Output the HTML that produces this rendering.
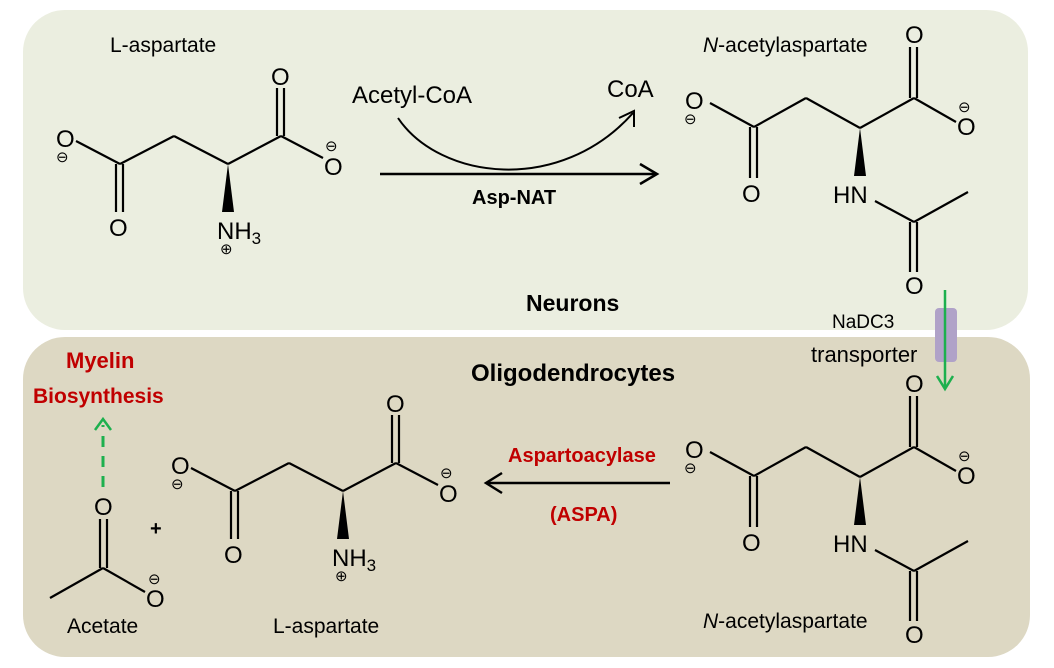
<!DOCTYPE html>
<html><head><meta charset="utf-8"><style>
html,body{margin:0;padding:0;background:#fff;}
svg{display:block;}
text{font-family:"Liberation Sans",sans-serif;fill:#000;}
.o{font-size:24px;}
.ch{font-size:15px;}
.lbl{font-size:21px;}
.b{font-weight:bold;}
</style></head><body>
<svg width="1054" height="668" viewBox="0 0 1054 668" xmlns="http://www.w3.org/2000/svg">
<defs>
<g id="asp" stroke="#000" stroke-width="2.2" fill="none">
  <line x1="76" y1="141" x2="120" y2="164"/>
  <line x1="120" y1="164" x2="174" y2="136"/>
  <line x1="174" y1="136" x2="228" y2="164"/>
  <line x1="228" y1="164" x2="281" y2="136"/>
  <line x1="281" y1="136" x2="323" y2="158"/>
  <line x1="277" y1="136" x2="277" y2="88"/>
  <line x1="284" y1="136" x2="284" y2="88"/>
  <line x1="116" y1="164" x2="116" y2="212"/>
  <line x1="123" y1="164" x2="123" y2="212"/>
  <polygon points="228,164 222,212 234,212" fill="#000" stroke="none"/>
</g>
<g id="naa" stroke="#000" stroke-width="2.2" fill="none">
  <line x1="710" y1="103" x2="754" y2="127"/>
  <line x1="754" y1="127" x2="806" y2="98"/>
  <line x1="806" y1="98" x2="860" y2="128"/>
  <line x1="860" y1="128" x2="914" y2="98"/>
  <line x1="914" y1="98" x2="956" y2="122"/>
  <line x1="910" y1="98" x2="910" y2="47"/>
  <line x1="917" y1="98" x2="917" y2="47"/>
  <line x1="750" y1="127" x2="750" y2="178"/>
  <line x1="757" y1="127" x2="757" y2="178"/>
  <polygon points="860,128 854,176 866,176" fill="#000" stroke="none"/>
  <line x1="875" y1="201" x2="914" y2="222"/>
  <line x1="914" y1="222" x2="968" y2="192"/>
  <line x1="910" y1="222" x2="910" y2="272"/>
  <line x1="917" y1="222" x2="917" y2="272"/>
</g>
</defs>
<rect x="23" y="10" width="1005" height="320" rx="42" fill="#ebeee0"/>
<rect x="23" y="337" width="1007" height="320" rx="42" fill="#ddd8c3"/>

<!-- top aspartate -->
<use href="#asp"/>
<text class="lbl" x="110" y="52">L-aspartate</text>
<text class="o" x="56" y="147">O</text><text class="ch" x="56" y="162">⊖</text>
<text class="o" x="271" y="85">O</text>
<text class="ch" x="325" y="151">⊖</text><text class="o" x="324" y="175">O</text>
<text class="o" x="109" y="236">O</text>
<text class="o" x="217" y="239">NH<tspan font-size="17" dy="5">3</tspan></text>
<text class="ch" x="220" y="254">⊕</text>

<!-- reaction top -->
<text x="352" y="103" style="font-size:24px">Acetyl-CoA</text>
<text x="607" y="97" style="font-size:24px">CoA</text>
<path d="M398,118 C440,180 560,195 633,113" stroke="#000" stroke-width="2" fill="none"/>
<polyline points="619,118 634,111 634,127" stroke="#000" stroke-width="2" fill="none"/>
<line x1="380" y1="174" x2="655" y2="174" stroke="#000" stroke-width="2.5"/>
<polyline points="640,164 657,174 640,184" stroke="#000" stroke-width="2.5" fill="none"/>
<text x="472" y="204" class="b" style="font-size:20px">Asp-NAT</text>
<text x="526" y="311" class="b" style="font-size:23px">Neurons</text>

<!-- top NAA -->
<use href="#naa"/>
<text class="lbl" x="703" y="52"><tspan font-style="italic">N</tspan>-acetylaspartate</text>
<text class="o" x="685" y="109">O</text><text class="ch" x="684" y="124">⊖</text>
<text class="o" x="905" y="43">O</text>
<text class="ch" x="958" y="112">⊖</text><text class="o" x="957" y="135">O</text>
<text class="o" x="742" y="202">O</text>
<text class="o" x="833" y="203">HN</text>
<text class="o" x="905" y="294">O</text>

<!-- transporter -->
<text x="832" y="328" style="font-size:19px">NaDC3</text>
<text x="811" y="362" style="font-size:22px">transporter</text>
<rect x="935" y="308" width="22" height="54" rx="4" fill="#b0a2c8"/>
<line x1="945" y1="290" x2="945" y2="388" stroke="#1db04e" stroke-width="2.5"/>
<polyline points="937,376 945,389 953,376" stroke="#1db04e" stroke-width="2.5" fill="none"/>

<text x="471" y="381" class="b" style="font-size:24px">Oligodendrocytes</text>

<!-- bottom NAA -->
<g transform="translate(0,349)"><use href="#naa"/>
<text class="o" x="685" y="109">O</text><text class="ch" x="684" y="124">⊖</text>
<text class="o" x="905" y="43">O</text>
<text class="ch" x="958" y="112">⊖</text><text class="o" x="957" y="135">O</text>
<text class="o" x="742" y="202">O</text>
<text class="o" x="833" y="203">HN</text>
<text class="o" x="905" y="294">O</text>
</g>
<text class="lbl" x="703" y="628"><tspan font-style="italic">N</tspan>-acetylaspartate</text>

<!-- ASPA arrow -->
<text x="508" y="462" class="b" style="font-size:20px;fill:#c00000">Aspartoacylase</text>
<text x="550" y="521" class="b" style="font-size:20px;fill:#c00000">(ASPA)</text>
<line x1="670" y1="483" x2="487" y2="483" stroke="#000" stroke-width="2.5"/>
<polyline points="502,473 486,483 502,493" stroke="#000" stroke-width="2.5" fill="none"/>

<!-- bottom aspartate -->
<g transform="translate(115,327)"><use href="#asp"/>
<text class="o" x="56" y="147">O</text><text class="ch" x="56" y="162">⊖</text>
<text class="o" x="271" y="85">O</text>
<text class="ch" x="325" y="151">⊖</text><text class="o" x="324" y="175">O</text>
<text class="o" x="109" y="236">O</text>
<text class="o" x="217" y="239">NH<tspan font-size="17" dy="5">3</tspan></text>
<text class="ch" x="220" y="254">⊕</text>
</g>
<text class="lbl" x="273" y="633">L-aspartate</text>

<!-- acetate -->
<text x="150" y="535" class="b" style="font-size:20px">+</text>
<g stroke="#000" stroke-width="2.2">
<line x1="100" y1="519" x2="100" y2="568"/>
<line x1="107" y1="519" x2="107" y2="568"/>
<line x1="103" y1="568" x2="50" y2="598"/>
<line x1="103" y1="568" x2="145" y2="592"/>
</g>
<text class="o" x="94" y="515">O</text>
<text class="ch" x="148" y="584">⊖</text><text class="o" x="146" y="607">O</text>
<text class="lbl" x="67" y="633">Acetate</text>
<line x1="103" y1="487" x2="103" y2="425" stroke="#1db04e" stroke-width="3" stroke-dasharray="11,9"/>
<polyline points="95,430 103,419 111,430" stroke="#1db04e" stroke-width="2.5" fill="none"/>
<text x="66" y="368" class="b" style="font-size:22px;fill:#c00000">Myelin</text>
<text x="33" y="403" class="b" style="font-size:21px;fill:#c00000">Biosynthesis</text>
</svg>
</body></html>
